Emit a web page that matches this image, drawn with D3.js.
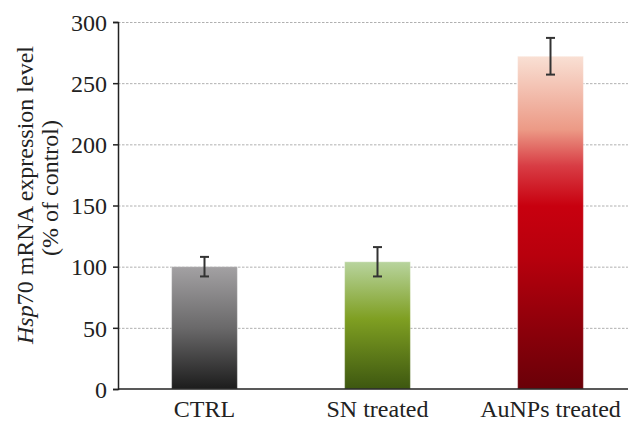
<!DOCTYPE html>
<html>
<head>
<meta charset="utf-8">
<script src="https://cdn.jsdelivr.net/npm/d3@7"></script>
<style>
  body { margin: 0; background: #fff; }
  svg text { font-family: "Liberation Serif", "Times New Roman", serif !important; fill: #222; }
</style>
</head>
<body>
<div id="chart"></div>
<script>
var categories = ["CTRL", "SN treated", "AuNPs treated"];
var values = [100, 104, 272];
var errors = [8, 12, 15];
var yTicks = [0, 50, 100, 150, 200, 250, 300];

// gradient stops per bar, top to bottom
var gradients = [
  [["0%", "#a3a1a3"], ["50%", "#6a696a"], ["100%", "#1c1c1c"]],
  [["0%", "#b8d49e"], ["45%", "#7f9f22"], ["100%", "#3d5710"]],
  [["0%", "#f9e0d4"], ["22%", "#ec9a86"], ["33%", "#d83c44"], ["45%", "#c8000f"], ["60%", "#b8000d"], ["100%", "#690008"]]
];

var w = 628, h = 421;
var plotLeft = 118, plotRight = 637, plotTop = 22, plotBottom = 389;
var serif = "'Liberation Serif', 'Times New Roman', serif";

var svg = d3.select("#chart")
  .append("svg")
  .attr("width", w)
  .attr("height", h)
  .attr("font-family", serif);

var defs = svg.append("defs");
gradients.forEach(function(stops, i) {
  var g = defs.append("linearGradient")
    .attr("id", "grad" + i)
    .attr("x1", 0).attr("y1", 0)
    .attr("x2", 0).attr("y2", 1);
  stops.forEach(function(s) {
    g.append("stop").attr("offset", s[0]).attr("stop-color", s[1]);
  });
});

var x = d3.scaleBand()
  .domain(categories)
  .range([plotLeft, plotRight])
  .paddingInner(0.62)
  .paddingOuter(0.31);

var y = d3.scaleLinear()
  .domain([0, 300])
  .range([plotBottom, plotTop]);

// gridlines
svg.selectAll("line.grid")
  .data(yTicks.filter(function(d) { return d > 0; }))
  .enter()
  .append("line")
  .attr("class", "grid")
  .attr("x1", plotLeft)
  .attr("x2", w)
  .attr("y1", function(d) { return y(d) + 0.5; })
  .attr("y2", function(d) { return y(d) + 0.5; })
  .attr("stroke", "#b0b0b0")
  .attr("stroke-width", 1)
  .attr("stroke-dasharray", "2.5,1.5");

// bars
svg.selectAll("rect.bar")
  .data(values)
  .enter()
  .append("rect")
  .attr("class", "bar")
  .attr("x", function(d, i) { return x(categories[i]); })
  .attr("y", function(d) { return y(d); })
  .attr("width", x.bandwidth())
  .attr("height", function(d) { return y(0) - y(d); })
  .attr("fill", function(d, i) { return "url(#grad" + i + ")"; })
  .attr("stroke", "#ffffff")
  .attr("stroke-opacity", 0.35)
  .attr("stroke-width", 1);

// error bars
var errG = svg.selectAll("g.err")
  .data(values)
  .enter()
  .append("g")
  .attr("class", "err")
  .attr("stroke", "#333")
  .attr("stroke-width", 2);

errG.append("line")
  .attr("x1", function(d, i) { return x(categories[i]) + x.bandwidth() / 2; })
  .attr("x2", function(d, i) { return x(categories[i]) + x.bandwidth() / 2; })
  .attr("y1", function(d, i) { return y(d + errors[i]); })
  .attr("y2", function(d, i) { return y(d - errors[i]); });

[1, -1].forEach(function(sign) {
  errG.append("line")
    .attr("x1", function(d, i) { return x(categories[i]) + x.bandwidth() / 2 - 4.5; })
    .attr("x2", function(d, i) { return x(categories[i]) + x.bandwidth() / 2 + 4.5; })
    .attr("y1", function(d, i) { return y(d + sign * errors[i]); })
    .attr("y2", function(d, i) { return y(d + sign * errors[i]); });
});

// y axis
var yAxis = svg.append("g")
  .attr("transform", "translate(" + plotLeft + ",0)")
  .call(d3.axisLeft(y).tickValues(yTicks).tickSize(5).tickPadding(6))
  .attr("font-family", serif)
  .attr("font-size", 24);
yAxis.select(".domain").attr("stroke", "#222").attr("stroke-width", 1.5);
yAxis.selectAll(".tick line").attr("stroke", "#222").attr("stroke-width", 1.5);
yAxis.selectAll(".tick text")
  .attr("fill", "#222")
  .attr("dy", "0.34em");

// x axis baseline
svg.append("line")
  .attr("x1", plotLeft)
  .attr("x2", w)
  .attr("y1", y(0))
  .attr("y2", y(0))
  .attr("stroke", "#222")
  .attr("stroke-width", 1.5);

svg.selectAll("text.cat")
  .data(categories)
  .enter()
  .append("text")
  .attr("class", "cat")
  .attr("x", function(d) { return x(d) + x.bandwidth() / 2; })
  .attr("y", 417)
  .attr("text-anchor", "middle")
  .attr("font-size", 24)
  .text(function(d) { return d; });

// y label
var lab = svg.append("text")
  .attr("transform", "translate(33,195) rotate(-90)")
  .attr("text-anchor", "middle")
  .attr("font-size", 24);
lab.append("tspan").style("font-style", "italic").text("Hsp");
lab.append("tspan").text("70 mRNA expression level");

svg.append("text")
  .attr("transform", "translate(58,188) rotate(-90)")
  .attr("text-anchor", "middle")
  .attr("font-size", 24)
  .text("(% of control)");
</script>
</body>
</html>
